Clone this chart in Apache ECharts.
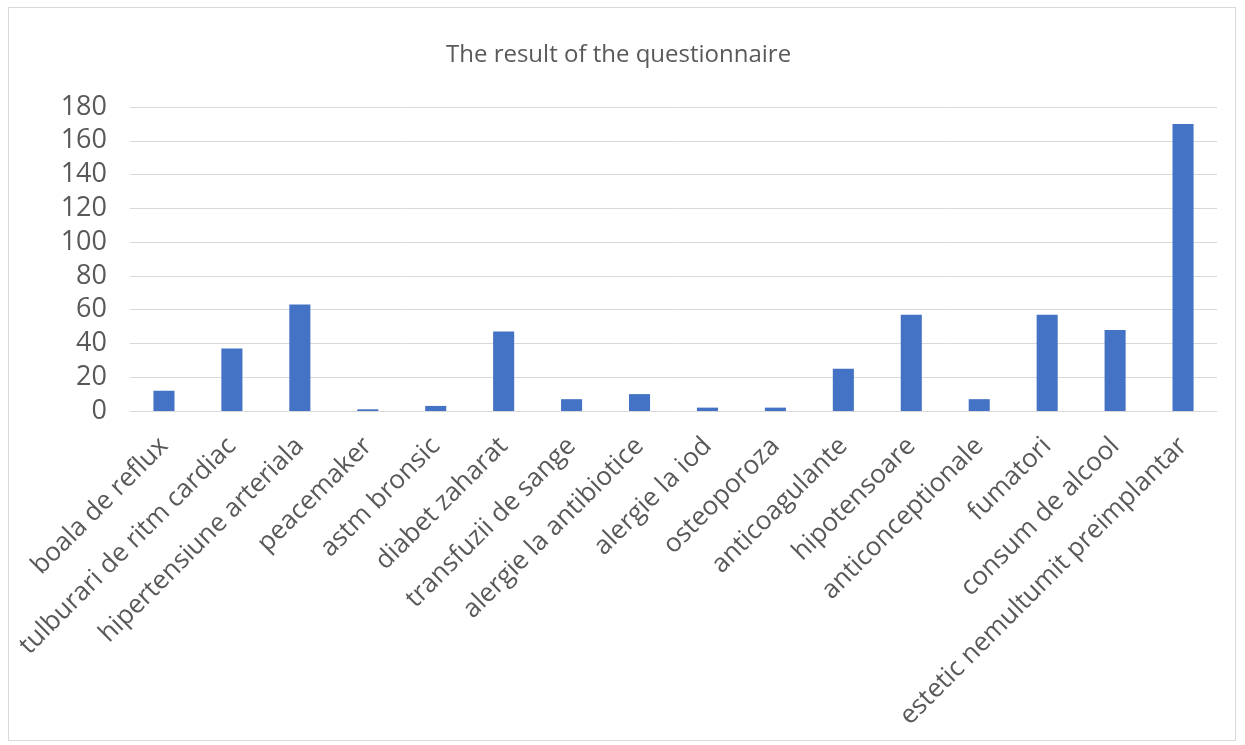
<!DOCTYPE html>
<html>
<head>
<meta charset="utf-8">
<script src="https://cdn.jsdelivr.net/npm/echarts@6/dist/echarts.min.js"></script>
<style>
  html, body { margin: 0; padding: 0; background: #fff; }
  #frame { position: absolute; left: 8px; top: 7px; width: 1228px; height: 734px; border: 1px solid #d9d9d9; box-sizing: border-box; }
  #chart { position: absolute; left: 0; top: 0; width: 1245px; height: 745px; }
</style>
</head>
<body>
<div id="frame"></div>
<div id="chart"></div>
<script>
const categories = [
  'boala de reflux', 'tulburari de ritm cardiac', 'hipertensiune arteriala', 'peacemaker',
  'astm bronsic', 'diabet zaharat', 'transfuzii de sange', 'alergie la antibiotice',
  'alergie la iod', 'osteoporoza', 'anticoagulante', 'hipotensoare',
  'anticonceptionale', 'fumatori', 'consum de alcool', 'estetic nemultumit preimplantar'
];
const answers = [12, 37, 63, 1, 3, 47, 7, 10, 2, 2, 25, 57, 7, 57, 48, 170];
const chartTitle = 'The result of the questionnaire';

const chart = echarts.init(document.getElementById('chart'), null, { renderer: 'canvas' });
chart.setOption({
  animation: false,
  textStyle: { fontFamily: '"Open Sans", sans-serif' },
  title: {
    text: chartTitle,
    left: 441,
    top: 38,
    textStyle: { fontFamily: '"Open Sans", sans-serif', fontSize: 24, fontWeight: 'normal', color: '#595959' }
  },
  grid: { left: 130, right: 28, top: 107, height: 304, containLabel: false },
  xAxis: {
    type: 'category',
    data: categories,
    axisLine: { show: true, lineStyle: { color: '#d9d9d9', width: 1 } },
    axisTick: { show: false },
    axisLabel: {
      rotate: 45,
      interval: 0,
      margin: 31,
      fontSize: 26,
      color: '#595959',
      fontFamily: '"Open Sans", sans-serif'
    }
  },
  yAxis: {
    type: 'value',
    min: 0,
    max: 180,
    interval: 20,
    axisLine: { show: false },
    axisTick: { show: false },
    axisLabel: { fontSize: 27, color: '#595959', margin: 23, fontFamily: '"Open Sans", sans-serif' },
    splitLine: { lineStyle: { color: '#d9d9d9', width: 1 } }
  },
  series: [{
    type: 'bar',
    data: answers,
    barWidth: '31%',
    itemStyle: { color: '#4472c4' }
  }]
});
</script>
</body>
</html>
